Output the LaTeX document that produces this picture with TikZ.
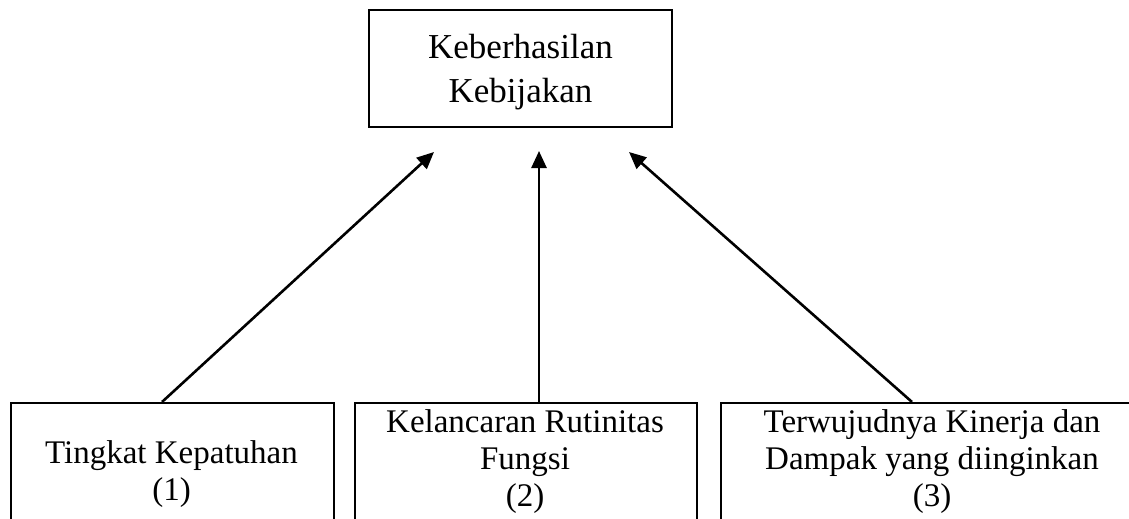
\documentclass[tikz,border=0pt]{standalone}
\usepackage{fontspec}
\setmainfont{Liberation Serif}
\usetikzlibrary{arrows.meta,calc}
\begin{document}
\begin{tikzpicture}[x=1pt,y=-1pt,
  boxstyle/.style={draw=black, line width=2pt, rectangle, inner sep=0pt},
  toplbl/.style={align=center, font=\fontsize{35}{44}\selectfont, inner sep=0pt},
  lbl/.style={align=center, font=\fontsize{33}{37}\selectfont, inner sep=0pt},
  arr/.style={line width=2.6pt, -{Triangle[length=17pt,width=15pt]}}]
\useasboundingbox (0,0) rectangle (1129,519);
\clip (0,0) rectangle (1129,519);
% top box
\node[boxstyle, minimum width=303pt, minimum height=117pt] (top) at (520.5,68.5) {};
\node[toplbl] (toptxt) at (520.5,72) {Keberhasilan\\Kebijakan};
% bottom boxes (cut off by the page edge)
\node[boxstyle, anchor=north west, minimum width=323pt, minimum height=160pt] (b1) at (10,402) {};
\node[boxstyle, anchor=north west, minimum width=342pt, minimum height=160pt] (b2) at (354,402) {};
\node[boxstyle, anchor=north west, minimum width=424pt, minimum height=160pt] (b3) at (720,402) {};
\node[lbl] (t1) at (171.5,474) {Tingkat Kepatuhan\\(1)};
\node[lbl] (t2) at (525,462) {Kelancaran Rutinitas\\Fungsi\\(2)};
\node[lbl] (t3) at (932,462) {Terwujudnya Kinerja dan\\Dampak yang diinginkan\\(3)};
% arrow anchors
\coordinate (s1) at ($(b1.north west)+(152,0)$);
\coordinate (e1) at (434,152);
\coordinate (s2) at ($(b2.north west)+(185,0)$);
\coordinate (e2) at (539,151);
\coordinate (s3) at ($(b3.north west)+(192,0)$);
\coordinate (e3) at (629,152);
\draw[arr] (s1) -- (e1);
\draw[arr] (s2) -- (e2);
\draw[arr] (s3) -- (e3);
\end{tikzpicture}
\end{document}
